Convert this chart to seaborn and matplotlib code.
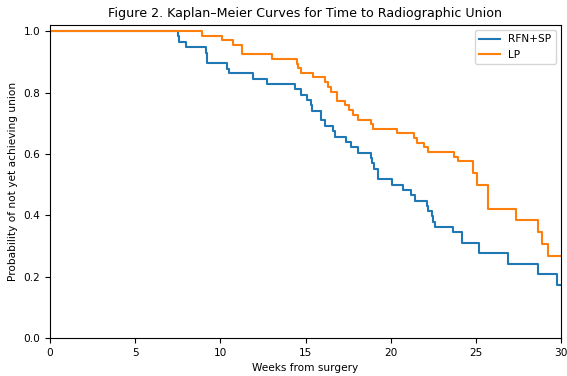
import matplotlib
matplotlib.use("Agg")
import matplotlib.pyplot as plt
import seaborn as sns
import pandas as pd

title = "Figure 2. Kaplan\u2013Meier Curves for Time to Radiographic Union"
groups = ["RFN+SP", "LP"]

rfn_t = [0, 7.5, 7.6, 7.97, 9.14, 9.2, 10.37, 10.5, 11.94, 12.72, 14.39, 14.72, 15.07,
         15.31, 15.4, 15.9, 16.15, 16.64, 16.74, 17.38, 17.68, 18.1, 18.83, 18.9, 19.03,
         19.28, 20.06, 20.7, 21.2, 21.4, 22.12, 22.2, 22.45, 22.5, 22.6, 23.68, 24.21,
         25.2, 26.91, 28.67, 29.79, 30.0]
rfn_s = [1.0, 0.985, 0.965, 0.949, 0.93, 0.897, 0.878, 0.862, 0.844, 0.827, 0.810, 0.793,
         0.775, 0.759, 0.741, 0.710, 0.690, 0.673, 0.656, 0.640, 0.621, 0.604, 0.586,
         0.569, 0.552, 0.517, 0.500, 0.483, 0.466, 0.448, 0.431, 0.414, 0.396, 0.379,
         0.362, 0.345, 0.310, 0.276, 0.241, 0.207, 0.172, 0.172]

lp_t = [0, 8.9, 10.12, 10.77, 11.29, 13.02, 14.48, 14.58, 14.72, 15.46, 16.15, 16.34,
        16.48, 16.87, 17.32, 17.56, 17.81, 18.1, 18.83, 18.95, 20.36, 21.37, 21.53,
        21.96, 22.21, 23.72, 23.98, 24.82, 25.09, 25.7, 27.36, 28.63, 28.9, 29.26, 30.0]
lp_s = [1.0, 0.985, 0.970, 0.956, 0.926, 0.909, 0.893, 0.880, 0.865, 0.849, 0.833, 0.817,
        0.802, 0.773, 0.759, 0.743, 0.728, 0.712, 0.696, 0.682, 0.667, 0.651, 0.636,
        0.621, 0.606, 0.591, 0.576, 0.538, 0.499, 0.422, 0.384, 0.345, 0.307, 0.268, 0.268]

df = pd.concat([
    pd.DataFrame({"t": rfn_t, "s": rfn_s, "g": groups[0]}),
    pd.DataFrame({"t": lp_t, "s": lp_s, "g": groups[1]}),
], ignore_index=True)

fig = plt.figure(figsize=(5.67, 3.76), dpi=100)
ax = fig.add_axes([50/567, 1-338/376, (561-50)/567, (338-25)/376])
sns.lineplot(data=df, x="t", y="s", hue="g", hue_order=groups,
             palette=["#1f77b4", "#ff7f0e"], drawstyle="steps-post",
             estimator=None, sort=False, linewidth=1.5, ax=ax)
ax.set_xlim(0, 30)
ax.set_ylim(0, 1.02)
ax.set_xticks([0, 5, 10, 15, 20, 25, 30])
ax.set_yticks([0.0, 0.2, 0.4, 0.6, 0.8, 1.0])
ax.tick_params(labelsize=7.6)
ax.set_xlabel("Weeks from surgery", fontsize=7.6)
ax.set_ylabel("Probability of not yet achieving union", fontsize=7.6)
ax.set_title(title, fontsize=9.1)
ax.legend(loc="upper right", fontsize=7.6, title=None)
fig.savefig("out.png", dpi=100)
